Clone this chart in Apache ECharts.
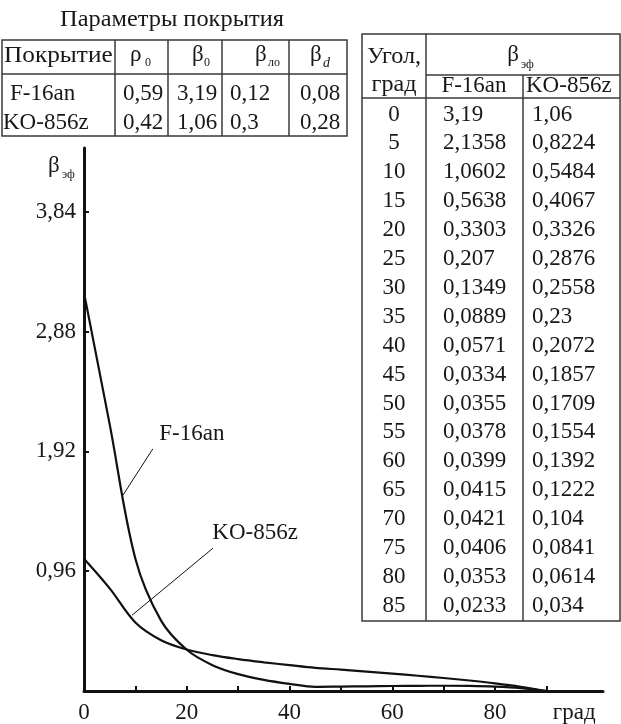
<!DOCTYPE html>
<html>
<head>
<meta charset="utf-8">
<script src="https://cdn.jsdelivr.net/npm/echarts@6/dist/echarts.min.js"></script>
<style>
  html, body { margin: 0; padding: 0; background: #fff; }
  #chart { width: 621px; height: 724px; }
</style>
</head>
<body>
<div id="chart"></div>
<script>
// углы и значения β эф (таблица справа)
const angles = [0, 5, 10, 15, 20, 25, 30, 35, 40, 45, 50, 55, 60, 65, 70, 75, 80, 85]
const f16 = [3.19, 2.1358, 1.0602, 0.5638, 0.3303, 0.207, 0.1349, 0.0889, 0.0571, 0.0334, 0.0355, 0.0378, 0.0399, 0.0415, 0.0421, 0.0406, 0.0353, 0.0233]
const ko = [1.06, 0.8224, 0.5484, 0.4067, 0.3326, 0.2876, 0.2558, 0.23, 0.2072, 0.1857, 0.1709, 0.1554, 0.1392, 0.1222, 0.104, 0.0841, 0.0614, 0.034]
// curves reach the axis at 90 deg on the plot
const endAngle = 90
const endValue = 0

// параметры покрытия (таблица сверху)
const coatings = ['F-16an', 'KO-856z']
const rho0 = [0.59, 0.42]
const beta0 = [3.19, 1.06]
const betaLo = [0.12, 0.3]
const betaD = [0.08, 0.28]

// оси
const xTicks = [0, 10, 20, 30, 40, 50, 60, 70, 80, 90]
const xLabels = [0, 20, 40, 60, 80]
const xUnitAt = 95.4
const yTicks = [0.96, 1.92, 2.88, 3.84]

// подписи кривых: [x, y] начала выноски, конца выноски, текста
const f16Leader = [[13.4, 1.94], [7.6, 1.57]]
const koLeader = [[25.1, 1.144], [9.35, 0.607]]
const curveLabels = [[21.0, 2.06, 'F-16an'], [33.3, 1.265, 'KO-856z']]

const FONT = 'Liberation Serif'
const FS = 23
const INK = '#1a1718'
const RULE = '#3a3a3a'

const fmt = (v) => String(v).replace('.', ',')

function text(str, x, y, size, align, opts) {
  opts = opts || {}
  return {
    type: 'text',
    silent: true,
    x: x,
    y: y,
    scaleX: opts.scaleX || 1,
    style: {
      text: str, x: 0, y: 0,
      fontSize: size, fontFamily: FONT, fill: INK,
      fontStyle: opts.italic ? 'italic' : 'normal',
      align: align || 'left', verticalAlign: 'middle'
    }
  }
}
function line(x1, y1, x2, y2) {
  return {
    type: 'line', silent: true,
    shape: { x1: x1, y1: y1, x2: x2, y2: y2 },
    style: { stroke: RULE, lineWidth: 1.5 }
  }
}

function buildGraphic() {
  const g = []
  // заголовок
  g.push(text('Параметры покрытия', 172, 20, FS, 'center', { scaleX: 1.06 }))

  // таблица параметров
  const L = { x0: 2, x1: 347, y0: 40, yh: 74, y1: 136, cols: [115, 168, 222, 289] }
  g.push({ type: 'rect', silent: true, shape: { x: L.x0, y: L.y0, width: L.x1 - L.x0, height: L.y1 - L.y0 }, style: { fill: 'none', stroke: RULE, lineWidth: 1.5 } })
  g.push(line(L.x0, L.yh, L.x1, L.yh))
  L.cols.forEach((c) => g.push(line(c, L.y0, c, L.y1)))
  g.push(text('Покрытие', 4, 56, FS, 'left', { scaleX: 1.1 }))
  g.push(text('ρ', 130, 55, FS))
  g.push(text('0', 145, 63, 12))
  g.push(text('β', 192, 55, FS))
  g.push(text('0', 204, 63, 12))
  g.push(text('β', 255, 55, FS))
  g.push(text('ло', 268, 63, 12))
  g.push(text('β', 310, 55, FS))
  g.push(text('d', 323, 63, 14, 'left', { italic: true }))
  const rowY = [94, 123]
  const valX = [123, 177, 230, 300]
  coatings.forEach((name, i) => {
    g.push(text(name, i === 0 ? 10 : 3, rowY[i], FS))
    ;[rho0, beta0, betaLo, betaD].forEach((arr, j) => {
      g.push(text(fmt(arr[i]), valX[j], rowY[i], FS))
    })
  })

  // таблица β эф
  const R = { x0: 362, x1: 620, y0: 34, ysub: 75, yh: 98, c1: 426, c2: 523, y1: 621 }
  g.push({ type: 'rect', silent: true, shape: { x: R.x0, y: R.y0, width: R.x1 - R.x0, height: R.y1 - R.y0 }, style: { fill: 'none', stroke: RULE, lineWidth: 1.5 } })
  g.push(line(R.c1, R.y0, R.c1, R.y1))
  g.push(line(R.c2, R.ysub, R.c2, R.y1))
  g.push(line(R.c1, R.ysub, R.x1, R.ysub))
  g.push(line(R.x0, R.yh, R.x1, R.yh))
  g.push(text('Угол,', 394, 57, FS, 'center', { scaleX: 1.05 }))
  g.push(text('град', 394, 85, FS, 'center', { scaleX: 1.05 }))
  g.push(text('β', 513, 55, FS, 'center'))
  g.push(text('эф', 521, 65, 12))
  g.push(text(coatings[0], 474, 86, FS, 'center'))
  g.push(text(coatings[1], 526, 86, FS))
  const pitch = 28.9
  angles.forEach((a, i) => {
    const y = 114.5 + i * pitch
    g.push(text(String(a), 394, y, FS, 'center'))
    g.push(text(fmt(f16[i]), 443, y, FS))
    g.push(text(fmt(ko[i]), 532, y, FS))
  })

  // подпись оси Y
  g.push(text('β', 48, 166, FS))
  g.push(text('эф', 62, 175, 12))
  return g
}

const chart = echarts.init(document.getElementById('chart'), null, { renderer: 'canvas' })

const axisText = { fontFamily: FONT, fontSize: FS, color: INK }

chart.setOption({
  animation: false,
  backgroundColor: '#fff',
  grid: { left: 84, right: 18, top: 148, bottom: 33, containLabel: false },
  xAxis: {
    type: 'value',
    min: 0,
    max: 101,
    splitLine: { show: false },
    axisLine: { lineStyle: { color: '#111', width: 3 } },
    axisTick: { inside: true, length: 5, customValues: xTicks, lineStyle: { color: '#111', width: 2 } },
    axisLabel: Object.assign({
      margin: 10,
      customValues: xLabels.concat([xUnitAt]),
      formatter: (v) => (v > endAngle ? 'град' : String(v))
    }, axisText)
  },
  yAxis: {
    type: 'value',
    min: 0,
    max: 4.35,
    splitLine: { show: false },
    axisLine: { lineStyle: { color: '#111', width: 3 } },
    axisTick: { inside: true, length: 5, customValues: yTicks, lineStyle: { color: '#111', width: 2 } },
    axisLabel: Object.assign({
      margin: 8,
      customValues: yTicks,
      formatter: (v) => v.toFixed(2).replace('.', ',')
    }, axisText)
  },
  graphic: buildGraphic(),
  series: [
    {
      name: 'F-16an',
      type: 'line',
      smooth: 0.35,
      showSymbol: false,
      lineStyle: { color: '#111', width: 2.2 },
      data: angles.map((a, i) => [a, f16[i]]).concat([[endAngle, endValue]])
    },
    {
      name: 'KO-856z',
      type: 'line',
      smooth: 0.35,
      showSymbol: false,
      lineStyle: { color: '#111', width: 2.2 },
      data: angles.map((a, i) => [a, ko[i]]).concat([[endAngle, endValue]])
    },
    {
      type: 'line',
      silent: true,
      showSymbol: false,
      lineStyle: { color: '#111', width: 1 },
      data: f16Leader
    },
    {
      type: 'line',
      silent: true,
      showSymbol: false,
      lineStyle: { color: '#111', width: 1 },
      data: koLeader
    },
    {
      type: 'scatter',
      silent: true,
      symbolSize: 0,
      itemStyle: { opacity: 1 },
      label: {
        show: true,
        position: 'inside',
        formatter: (p) => p.value[2],
        fontFamily: FONT,
        fontSize: FS,
        color: INK,
        opacity: 1,
        textBorderWidth: 0
      },
      data: curveLabels
    }
  ]
})
</script>
</body>
</html>
